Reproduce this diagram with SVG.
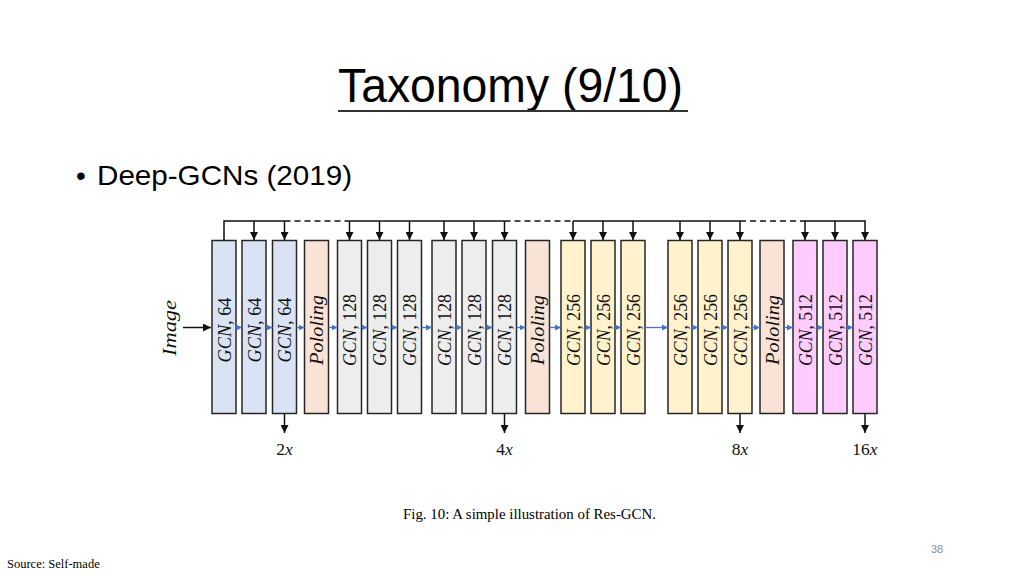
<svg xmlns="http://www.w3.org/2000/svg" width="1024" height="576" viewBox="0 0 1024 576">
<defs>
<marker id="ab" markerUnits="userSpaceOnUse" markerWidth="9" markerHeight="8" refX="8" refY="4" orient="auto"><path d="M0,0 L8,4 L0,8 Z" fill="#111"/></marker>
<marker id="au" markerUnits="userSpaceOnUse" markerWidth="7" markerHeight="7" refX="6" refY="3.5" orient="auto"><path d="M0,0.5 L6,3.5 L0,6.5 Z" fill="#4472c4"/></marker>
</defs>
<style>
.bx{stroke:#262626;stroke-width:1.5}
.b{fill:#dae3f3}.p{fill:#f9e2d6}.g{fill:#ededed}.y{fill:#fff2cc}.k{fill:#ffccff}
.lb{font-family:"Liberation Serif",serif;font-size:19.5px;font-style:italic;fill:#111}
.n{font-style:normal}
.c line,.c path{stroke:#111;stroke-width:1.5;fill:none}
.c .bl{stroke:#4472c4;stroke-width:1.3}
.d{stroke-dasharray:6 4}
.t{font-family:"Liberation Sans",Arial,sans-serif;fill:#000}
.s{font-family:"Liberation Serif","Times New Roman",serif;fill:#000}
.ml{font-family:"Liberation Serif",serif;font-size:17.5px;fill:#111}
</style>
<rect width="1024" height="576" fill="#fff"/>
<text class="t" x="338" y="102" font-size="49" textLength="345" lengthAdjust="spacingAndGlyphs">Taxonomy (9/10)</text>
<line x1="338" y1="111" x2="688" y2="111" stroke="#333" stroke-width="2"/>
<text class="t" x="76" y="185" font-size="28">•</text>
<text class="t" x="97" y="185" font-size="28" textLength="255" lengthAdjust="spacingAndGlyphs">Deep-GCNs (2019)</text>
<text class="lb" transform="translate(176,328) rotate(-90)" text-anchor="middle" y="0" font-size="21" textLength="56" lengthAdjust="spacingAndGlyphs">Image</text>
<g id="n1"><rect class="bx b" x="212" y="240.5" width="24" height="173"/><text class="lb" transform="translate(224,330) rotate(-90)" text-anchor="middle" y="6.5" textLength="65" lengthAdjust="spacingAndGlyphs">GCN<tspan class="n">, 64</tspan></text></g>
<g id="n2"><rect class="bx b" x="242" y="240.5" width="24" height="173"/><text class="lb" transform="translate(254,330) rotate(-90)" text-anchor="middle" y="6.5" textLength="65" lengthAdjust="spacingAndGlyphs">GCN<tspan class="n">, 64</tspan></text></g>
<g id="n3"><rect class="bx b" x="272.5" y="240.5" width="24" height="173"/><text class="lb" transform="translate(284.5,330) rotate(-90)" text-anchor="middle" y="6.5" textLength="65" lengthAdjust="spacingAndGlyphs">GCN<tspan class="n">, 64</tspan></text></g>
<g id="p1"><rect class="bx p" x="304.5" y="240.5" width="24" height="173"/><text class="lb" transform="translate(316.5,330) rotate(-90)" text-anchor="middle" y="6.5" textLength="70" lengthAdjust="spacingAndGlyphs">Pololing</text></g>
<g id="n5"><rect class="bx g" x="337.5" y="240.5" width="24" height="173"/><text class="lb" transform="translate(349.5,330) rotate(-90)" text-anchor="middle" y="6.5" textLength="72" lengthAdjust="spacingAndGlyphs">GCN<tspan class="n">, 128</tspan></text></g>
<g id="n6"><rect class="bx g" x="367.5" y="240.5" width="24" height="173"/><text class="lb" transform="translate(379.5,330) rotate(-90)" text-anchor="middle" y="6.5" textLength="72" lengthAdjust="spacingAndGlyphs">GCN<tspan class="n">, 128</tspan></text></g>
<g id="n7"><rect class="bx g" x="397.5" y="240.5" width="24" height="173"/><text class="lb" transform="translate(409.5,330) rotate(-90)" text-anchor="middle" y="6.5" textLength="72" lengthAdjust="spacingAndGlyphs">GCN<tspan class="n">, 128</tspan></text></g>
<g id="n8"><rect class="bx g" x="432" y="240.5" width="24" height="173"/><text class="lb" transform="translate(444,330) rotate(-90)" text-anchor="middle" y="6.5" textLength="72" lengthAdjust="spacingAndGlyphs">GCN<tspan class="n">, 128</tspan></text></g>
<g id="n9"><rect class="bx g" x="462" y="240.5" width="24" height="173"/><text class="lb" transform="translate(474,330) rotate(-90)" text-anchor="middle" y="6.5" textLength="72" lengthAdjust="spacingAndGlyphs">GCN<tspan class="n">, 128</tspan></text></g>
<g id="n10"><rect class="bx g" x="492.5" y="240.5" width="24" height="173"/><text class="lb" transform="translate(504.5,330) rotate(-90)" text-anchor="middle" y="6.5" textLength="72" lengthAdjust="spacingAndGlyphs">GCN<tspan class="n">, 128</tspan></text></g>
<g id="p2"><rect class="bx p" x="525.5" y="240.5" width="24" height="173"/><text class="lb" transform="translate(537.5,330) rotate(-90)" text-anchor="middle" y="6.5" textLength="70" lengthAdjust="spacingAndGlyphs">Pololing</text></g>
<g id="n12"><rect class="bx y" x="561" y="240.5" width="24" height="173"/><text class="lb" transform="translate(573,330) rotate(-90)" text-anchor="middle" y="6.5" textLength="72" lengthAdjust="spacingAndGlyphs">GCN<tspan class="n">, 256</tspan></text></g>
<g id="n13"><rect class="bx y" x="591" y="240.5" width="24" height="173"/><text class="lb" transform="translate(603,330) rotate(-90)" text-anchor="middle" y="6.5" textLength="72" lengthAdjust="spacingAndGlyphs">GCN<tspan class="n">, 256</tspan></text></g>
<g id="n14"><rect class="bx y" x="621" y="240.5" width="24" height="173"/><text class="lb" transform="translate(633,330) rotate(-90)" text-anchor="middle" y="6.5" textLength="72" lengthAdjust="spacingAndGlyphs">GCN<tspan class="n">, 256</tspan></text></g>
<g id="n15"><rect class="bx y" x="668" y="240.5" width="24" height="173"/><text class="lb" transform="translate(680,330) rotate(-90)" text-anchor="middle" y="6.5" textLength="72" lengthAdjust="spacingAndGlyphs">GCN<tspan class="n">, 256</tspan></text></g>
<g id="n16"><rect class="bx y" x="698" y="240.5" width="24" height="173"/><text class="lb" transform="translate(710,330) rotate(-90)" text-anchor="middle" y="6.5" textLength="72" lengthAdjust="spacingAndGlyphs">GCN<tspan class="n">, 256</tspan></text></g>
<g id="n17"><rect class="bx y" x="728" y="240.5" width="24" height="173"/><text class="lb" transform="translate(740,330) rotate(-90)" text-anchor="middle" y="6.5" textLength="72" lengthAdjust="spacingAndGlyphs">GCN<tspan class="n">, 256</tspan></text></g>
<g id="p3"><rect class="bx p" x="760" y="240.5" width="24" height="173"/><text class="lb" transform="translate(772,330) rotate(-90)" text-anchor="middle" y="6.5" textLength="70" lengthAdjust="spacingAndGlyphs">Pololing</text></g>
<g id="n19"><rect class="bx k" x="793" y="240.5" width="24" height="173"/><text class="lb" transform="translate(805,330) rotate(-90)" text-anchor="middle" y="6.5" textLength="72" lengthAdjust="spacingAndGlyphs">GCN<tspan class="n">, 512</tspan></text></g>
<g id="n20"><rect class="bx k" x="823" y="240.5" width="24" height="173"/><text class="lb" transform="translate(835,330) rotate(-90)" text-anchor="middle" y="6.5" textLength="72" lengthAdjust="spacingAndGlyphs">GCN<tspan class="n">, 512</tspan></text></g>
<g id="n21"><rect class="bx k" x="853" y="240.5" width="24" height="173"/><text class="lb" transform="translate(865,330) rotate(-90)" text-anchor="middle" y="6.5" textLength="72" lengthAdjust="spacingAndGlyphs">GCN<tspan class="n">, 512</tspan></text></g>
<g class="c" id="connectors">
<line x1="183" y1="327.5" x2="211" y2="327.5" marker-end="url(#ab)"/>
<line class="bl" x1="236" y1="327.5" x2="242" y2="327.5" marker-end="url(#au)"/>
<line class="bl" x1="266" y1="327.5" x2="272.5" y2="327.5" marker-end="url(#au)"/>
<line class="bl" x1="296.5" y1="327.5" x2="304.5" y2="327.5" marker-end="url(#au)"/>
<line class="bl" x1="328.5" y1="327.5" x2="337.5" y2="327.5" marker-end="url(#au)"/>
<line class="bl" x1="361.5" y1="327.5" x2="367.5" y2="327.5" marker-end="url(#au)"/>
<line class="bl" x1="391.5" y1="327.5" x2="397.5" y2="327.5" marker-end="url(#au)"/>
<line class="bl" x1="421.5" y1="327.5" x2="432" y2="327.5" marker-end="url(#au)"/>
<line class="bl" x1="456" y1="327.5" x2="462" y2="327.5" marker-end="url(#au)"/>
<line class="bl" x1="486" y1="327.5" x2="492.5" y2="327.5" marker-end="url(#au)"/>
<line class="bl" x1="516.5" y1="327.5" x2="525.5" y2="327.5" marker-end="url(#au)"/>
<line class="bl" x1="549.5" y1="327.5" x2="561" y2="327.5" marker-end="url(#au)"/>
<line class="bl" x1="585" y1="327.5" x2="591" y2="327.5" marker-end="url(#au)"/>
<line class="bl" x1="615" y1="327.5" x2="621" y2="327.5" marker-end="url(#au)"/>
<line class="bl" x1="645" y1="327.5" x2="668" y2="327.5" marker-end="url(#au)"/>
<line class="bl" x1="692" y1="327.5" x2="698" y2="327.5" marker-end="url(#au)"/>
<line class="bl" x1="722" y1="327.5" x2="728" y2="327.5" marker-end="url(#au)"/>
<line class="bl" x1="752" y1="327.5" x2="760" y2="327.5" marker-end="url(#au)"/>
<line class="bl" x1="784" y1="327.5" x2="793" y2="327.5" marker-end="url(#au)"/>
<line class="bl" x1="817" y1="327.5" x2="823" y2="327.5" marker-end="url(#au)"/>
<line class="bl" x1="847" y1="327.5" x2="853" y2="327.5" marker-end="url(#au)"/>
<path d="M224,240.5 V221 H284.5"/>
<line class="d" x1="284.5" y1="221" x2="349.5" y2="221"/>
<line x1="349.5" y1="221" x2="504.5" y2="221"/>
<line class="d" x1="504.5" y1="221" x2="573" y2="221"/>
<line x1="573" y1="221" x2="740" y2="221"/>
<line class="d" x1="740" y1="221" x2="805" y2="221"/>
<line x1="805" y1="221" x2="865" y2="221"/>
<line x1="254" y1="221" x2="254" y2="240" marker-end="url(#ab)"/>
<line x1="284.5" y1="221" x2="284.5" y2="240" marker-end="url(#ab)"/>
<line x1="349.5" y1="221" x2="349.5" y2="240" marker-end="url(#ab)"/>
<line x1="379.5" y1="221" x2="379.5" y2="240" marker-end="url(#ab)"/>
<line x1="409.5" y1="221" x2="409.5" y2="240" marker-end="url(#ab)"/>
<line x1="444" y1="221" x2="444" y2="240" marker-end="url(#ab)"/>
<line x1="474" y1="221" x2="474" y2="240" marker-end="url(#ab)"/>
<line x1="504.5" y1="221" x2="504.5" y2="240" marker-end="url(#ab)"/>
<line x1="573" y1="221" x2="573" y2="240" marker-end="url(#ab)"/>
<line x1="603" y1="221" x2="603" y2="240" marker-end="url(#ab)"/>
<line x1="633" y1="221" x2="633" y2="240" marker-end="url(#ab)"/>
<line x1="680" y1="221" x2="680" y2="240" marker-end="url(#ab)"/>
<line x1="710" y1="221" x2="710" y2="240" marker-end="url(#ab)"/>
<line x1="740" y1="221" x2="740" y2="240" marker-end="url(#ab)"/>
<line x1="805" y1="221" x2="805" y2="240" marker-end="url(#ab)"/>
<line x1="835" y1="221" x2="835" y2="240" marker-end="url(#ab)"/>
<path d="M864.25,221 H865 V240" marker-end="url(#ab)"/>
<line x1="284.5" y1="414" x2="284.5" y2="433" marker-end="url(#ab)"/>
<line x1="504.5" y1="414" x2="504.5" y2="433" marker-end="url(#ab)"/>
<line x1="740" y1="414" x2="740" y2="433" marker-end="url(#ab)"/>
<line x1="865" y1="414" x2="865" y2="433" marker-end="url(#ab)"/>
</g>
<g id="labels">
<text class="ml" x="284.5" y="455" text-anchor="middle">2<tspan font-style="italic">x</tspan></text>
<text class="ml" x="504.5" y="455" text-anchor="middle">4<tspan font-style="italic">x</tspan></text>
<text class="ml" x="740" y="455" text-anchor="middle">8<tspan font-style="italic">x</tspan></text>
<text class="ml" x="865" y="455" text-anchor="middle">16<tspan font-style="italic">x</tspan></text>
</g>
<text class="s" x="403" y="519" font-size="14.5" textLength="253" lengthAdjust="spacingAndGlyphs">Fig. 10: A simple illustration of Res-GCN.</text>
<text class="s" x="7" y="568" font-size="12.5">Source: Self-made</text>
<text class="t" x="931" y="553" font-size="11" style="fill:#8c8c8c">38</text>
</svg>
